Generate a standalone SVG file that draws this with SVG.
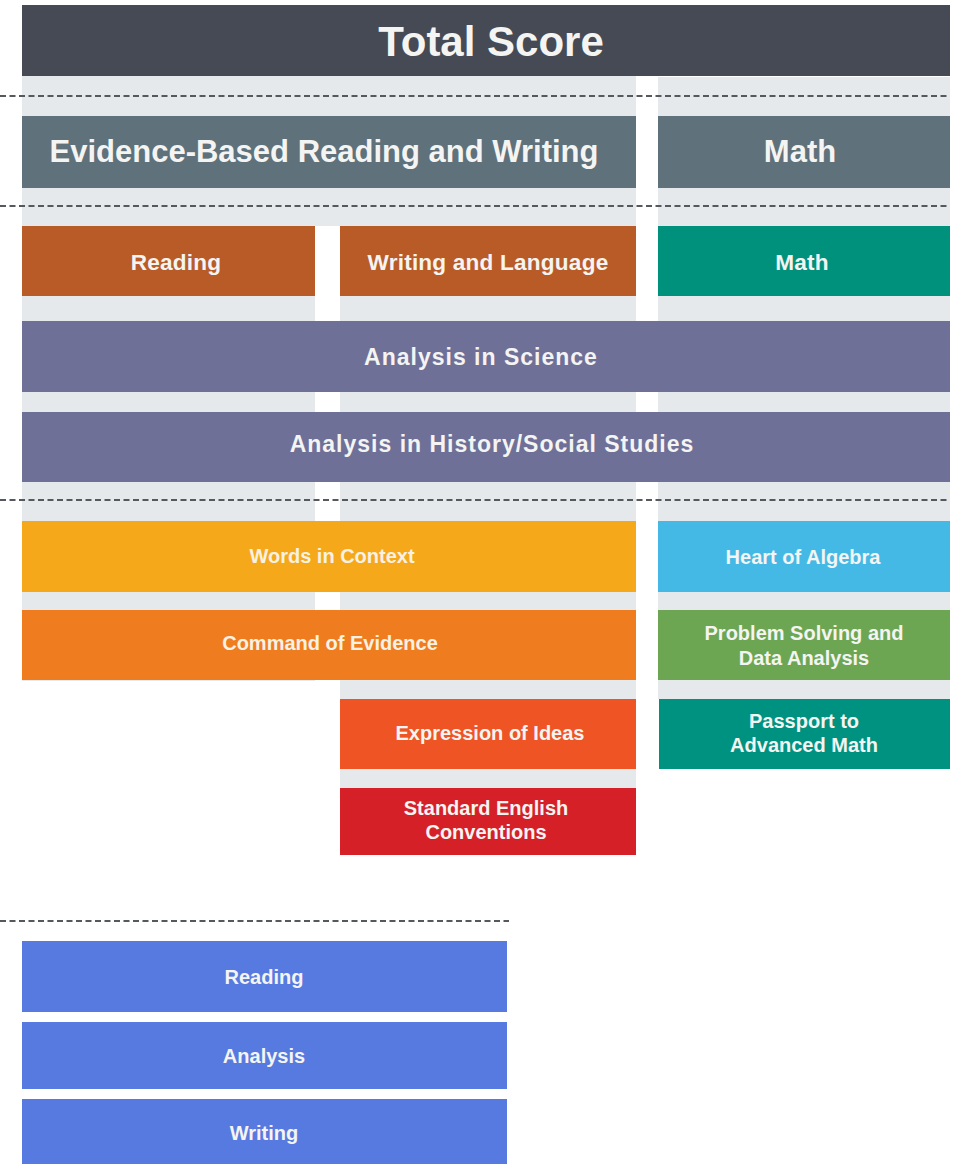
<svg xmlns="http://www.w3.org/2000/svg" width="956" height="1164" viewBox="0 0 956 1164">
<style>
text{font-family:"Liberation Sans",Arial,Helvetica,sans-serif;font-weight:bold;text-anchor:middle;fill:#f4f4f2}
.bg{fill:#e6e9ec}
.t1{font-size:42px}
.t2{font-size:31px}
.t3{font-size:22.6px;letter-spacing:0.2px}
.t4{font-size:23px;letter-spacing:1px}
.t5{font-size:20px;fill:#f8f1e4}
.t6{font-size:20px}
.dash{stroke:#55585c;stroke-width:2;stroke-dasharray:6 3.5;fill:none}
</style>
<rect width="956" height="1164" fill="#ffffff"/>
<g id="background">
<rect class="bg" x="22" y="75" width="614" height="151"/>
<rect class="bg" x="22" y="226" width="293" height="455"/>
<rect class="bg" x="340" y="226" width="296" height="562"/>
<rect class="bg" x="658" y="77" width="292" height="622"/>
</g>
<g id="dividers">
<line class="dash" x1="0" y1="96" x2="950" y2="96"/>
<line class="dash" x1="0" y1="206" x2="950" y2="206"/>
<line class="dash" x1="0" y1="500" x2="950" y2="500"/>
<line class="dash" x1="0" y1="921" x2="509" y2="921"/>
</g>
<g id="total-score">
<rect x="22" y="5" width="928" height="71" fill="#464a55"/>
<text class="t1" x="491" y="56">Total Score</text>
</g>
<g id="ebrw">
<rect x="22" y="116" width="614" height="72" fill="#5f717b"/>
<text class="t2" x="324" y="162">Evidence-Based Reading and Writing</text>
</g>
<g id="math-section">
<rect x="658" y="116" width="292" height="72" fill="#5f717b"/>
<text class="t2" x="800" y="162">Math</text>
</g>
<g id="reading-test">
<rect x="22" y="226" width="293" height="70" fill="#b95b27"/>
<text class="t3" x="176" y="270">Reading</text>
</g>
<g id="writing-test">
<rect x="340" y="226" width="296" height="70" fill="#b95b27"/>
<text class="t3" x="488" y="270">Writing and Language</text>
</g>
<g id="math-test">
<rect x="658" y="226" width="292" height="70" fill="#00917c"/>
<text class="t3" x="802" y="270">Math</text>
</g>
<g id="analysis-science">
<rect x="22" y="321" width="928" height="71" fill="#6e7098"/>
<text class="t4" x="481" y="365">Analysis in Science</text>
</g>
<g id="analysis-history">
<rect x="22" y="412" width="928" height="70" fill="#6e7098"/>
<text class="t4" x="492" y="452">Analysis in History/Social Studies</text>
</g>
<g id="words-in-context">
<rect x="22" y="521" width="614" height="71" fill="#f6a81b"/>
<text class="t5" x="332" y="563">Words in Context</text>
</g>
<g id="command-of-evidence">
<rect x="22" y="610" width="614" height="70" fill="#f07c20"/>
<text class="t5" x="330" y="650">Command of Evidence</text>
</g>
<g id="heart-of-algebra">
<rect x="658" y="521" width="292" height="71" fill="#45b9e6"/>
<text class="t6" x="803" y="564">Heart of Algebra</text>
</g>
<g id="problem-solving">
<rect x="658" y="610" width="292" height="70" fill="#6da653"/>
<text class="t6" x="804" y="640">Problem Solving and</text>
<text class="t6" x="804" y="665">Data Analysis</text>
</g>
<g id="expression-of-ideas">
<rect x="340" y="699" width="296" height="70" fill="#ef5425"/>
<text class="t6" x="490" y="740">Expression of Ideas</text>
</g>
<g id="passport">
<rect x="659" y="699" width="291" height="70" fill="#009280"/>
<text class="t6" x="804" y="728">Passport to</text>
<text class="t6" x="804" y="752">Advanced Math</text>
</g>
<g id="standard-english">
<rect x="340" y="788" width="296" height="67" fill="#d62027"/>
<text class="t6" x="486" y="815">Standard English</text>
<text class="t6" x="486" y="839">Conventions</text>
</g>
<g id="essay-reading">
<rect x="22" y="941" width="485" height="71" fill="#577ae0"/>
<text class="t6" x="264" y="984">Reading</text>
</g>
<g id="essay-analysis">
<rect x="22" y="1022" width="485" height="67" fill="#577ae0"/>
<text class="t6" x="264" y="1063">Analysis</text>
</g>
<g id="essay-writing">
<rect x="22" y="1099" width="485" height="65" fill="#577ae0"/>
<text class="t6" x="264" y="1140">Writing</text>
</g>
</svg>
